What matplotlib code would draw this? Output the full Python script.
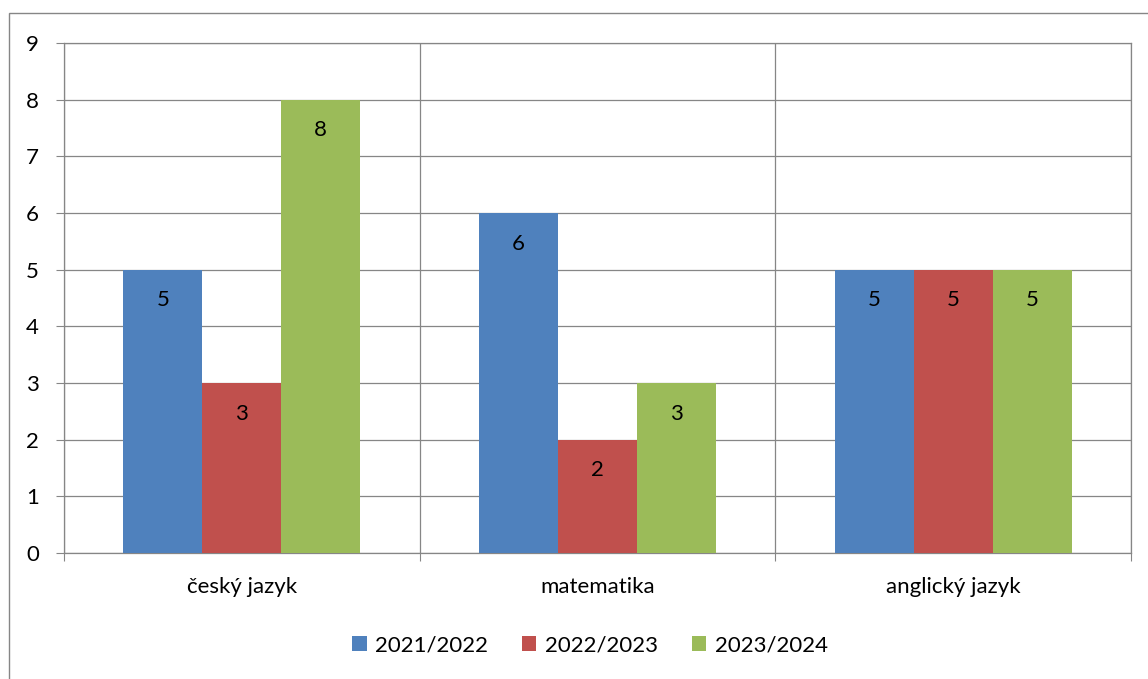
import matplotlib
matplotlib.use("Agg")
import matplotlib.pyplot as plt
import numpy as np
from matplotlib.patches import Rectangle

categories = ["český jazyk", "matematika", "anglický jazyk"]
series_names = ["2021/2022", "2022/2023", "2023/2024"]
v2122 = [5, 6, 5]
v2223 = [3, 2, 5]
v2324 = [8, 3, 5]
colors = ["#4F81BD", "#C0504D", "#9BBB59"]

plt.rcParams['font.family'] = ['Lato', 'DejaVu Sans']
FS = 16

W, H = 1148, 679
fig = plt.figure(figsize=(W/100, H/100), dpi=100)
fig.patch.set_facecolor("white")
fig.patches.append(Rectangle((9/W, -0.05), 1.2, 1 - 13/H + 0.05, transform=fig.transFigure,
                             fill=False, edgecolor="#868686", linewidth=1.0, zorder=0))

ax = fig.add_axes([64/W, 1 - 553/H, (1131-64)/W, (553-43)/H])
x = np.arange(len(categories))
bw = 1/4.5
grid_c = "#868686"
for i, (vals, name, c) in enumerate(zip([v2122, v2223, v2324], series_names, colors)):
    xs = x + (i - 1) * bw
    ax.bar(xs, vals, width=bw, color=c, label=name, zorder=3)
    for xi, v in zip(xs, vals):
        ax.annotate(str(v), (xi, v), xytext=(0, -22), textcoords="offset points",
                    ha="center", va="center", fontsize=FS, color="black", zorder=4)

ax.set_xlim(-0.5, len(categories) - 0.5)
ax.set_ylim(0, 9)
ax.set_yticks(range(0, 10))
ax.set_xticks(x)
ax.set_xticklabels(categories)
ax.set_xticks(np.arange(-0.5, len(categories)), minor=True)
ax.tick_params(axis="x", which="major", length=0, pad=17, labelsize=FS)
ax.tick_params(axis="x", which="minor", length=6, width=0.8, color=grid_c, direction="out")
ax.tick_params(axis="y", which="major", length=6, width=0.8, color=grid_c, pad=12, labelsize=FS)
ax.grid(axis="y", color=grid_c, linewidth=0.9, zorder=0)
ax.grid(axis="x", which="minor", color=grid_c, linewidth=0.9, zorder=0)
ax.grid(axis="x", which="major", visible=False)
for s in ax.spines.values():
    s.set_color(grid_c)
    s.set_linewidth(0.9)
ax.set_axisbelow(True)

fig.legend(loc="center", bbox_to_anchor=(590/W, 1 - 645/H), ncol=3, frameon=False,
           fontsize=FS, handlelength=0.65, handleheight=0.65, handletextpad=0.4,
           columnspacing=1.5)

fig.savefig("out.png", dpi=100)
